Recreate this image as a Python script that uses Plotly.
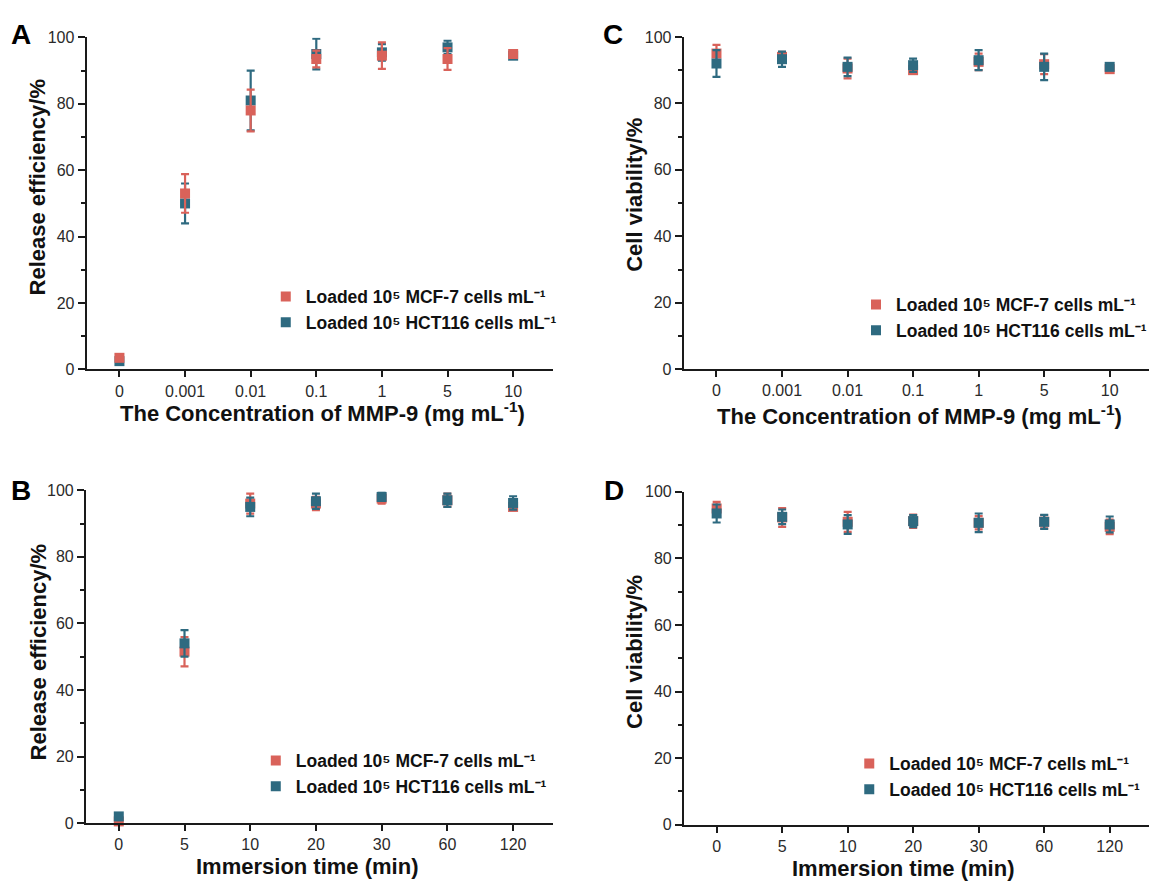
import plotly.graph_objects as go

# ---- data ---------------------------------------------------------------
concentrations = ["0", "0.001", "0.01", "0.1", "1", "5", "10"]
times = ["0", "5", "10", "20", "30", "60", "120"]

# release efficiency (%) vs MMP-9 concentration
release_conc_mcf7 = [3.5, 53.0, 78.0, 93.5, 94.5, 93.5, 95.0]
release_conc_mcf7_err = [0.8, 5.8, 6.3, 2.5, 4.0, 3.3, 0.8]
release_conc_hct116 = [2.5, 50.0, 81.0, 95.0, 95.5, 97.0, 94.5]
release_conc_hct116_err = [0.5, 6.0, 9.0, 4.6, 2.5, 2.0, 0.5]

# cell viability (%) vs MMP-9 concentration
viability_conc_mcf7 = [95.0, 94.0, 90.5, 90.0, 92.5, 91.8, 90.3]
viability_conc_mcf7_err = [2.6, 1.5, 3.0, 1.0, 2.5, 3.0, 0.5]
viability_conc_hct116 = [92.0, 93.3, 91.0, 91.5, 93.0, 91.0, 91.0]
viability_conc_hct116_err = [4.0, 2.3, 2.8, 2.0, 3.0, 4.0, 0.8]

# release efficiency (%) vs immersion time
release_time_mcf7 = [0.5, 51.5, 96.0, 96.0, 97.5, 97.0, 95.0]
release_time_mcf7_err = [0.3, 4.4, 3.0, 2.0, 1.5, 2.0, 1.0]
release_time_hct116 = [2.0, 54.0, 95.0, 96.7, 98.0, 97.0, 96.2]
release_time_hct116_err = [0.5, 4.0, 2.8, 2.3, 1.2, 2.0, 2.0]

# cell viability (%) vs immersion time
viability_time_mcf7 = [95.0, 92.3, 91.0, 91.2, 90.7, 91.0, 89.5]
viability_time_mcf7_err = [2.0, 2.8, 3.0, 2.0, 2.0, 2.0, 2.2]
viability_time_hct116 = [93.5, 92.5, 90.2, 91.2, 90.7, 91.0, 90.2]
viability_time_hct116_err = [2.7, 2.2, 2.8, 1.8, 2.8, 2.1, 2.4]

y_ticks = [0, 20, 40, 60, 80, 100]

name_mcf7 = "Loaded 10\u2075 MCF-7 cells mL\u207b\u00b9"
name_hct116 = "Loaded 10\u2075 HCT116 cells mL\u207b\u00b9"

# ---- styling -------------------------------------------------------------
RED = "#d9625a"
BLUE = "#2e6a80"
FONT = "Arial, 'Liberation Sans', sans-serif"
AXIS_COLOR = "#1a1a1a"
TICK_FONT = dict(family=FONT, size=16, color="#2a2a2a")

W, H = 1152, 887


def px_x(x):
    return x / W


def px_y(y):
    return 1 - y / H


def series(xs, ys, errs, color, name, xa, ya, legend, rank):
    return go.Scatter(
        x=xs, y=ys, name=name, mode="markers",
        xaxis=xa, yaxis=ya, legend=legend, legendrank=rank,
        cliponaxis=False,
        marker=dict(symbol="square", size=10, color=color),
        error_y=dict(type="data", array=errs, visible=True,
                     color=color, thickness=2.2, width=4),
    )


fig = go.Figure()

# A: release vs concentration (MCF-7 drawn on top)
fig.add_trace(series(concentrations, release_conc_hct116, release_conc_hct116_err,
                     BLUE, name_hct116, "x", "y", "legend", 2))
fig.add_trace(series(concentrations, release_conc_mcf7, release_conc_mcf7_err,
                     RED, name_mcf7, "x", "y", "legend", 1))
# C: viability vs concentration
fig.add_trace(series(concentrations, viability_conc_mcf7, viability_conc_mcf7_err,
                     RED, name_mcf7, "x2", "y2", "legend2", 1))
fig.add_trace(series(concentrations, viability_conc_hct116, viability_conc_hct116_err,
                     BLUE, name_hct116, "x2", "y2", "legend2", 2))
# B: release vs time
fig.add_trace(series(times, release_time_mcf7, release_time_mcf7_err,
                     RED, name_mcf7, "x3", "y3", "legend3", 1))
fig.add_trace(series(times, release_time_hct116, release_time_hct116_err,
                     BLUE, name_hct116, "x3", "y3", "legend3", 2))
# D: viability vs time
fig.add_trace(series(times, viability_time_mcf7, viability_time_mcf7_err,
                     RED, name_mcf7, "x4", "y4", "legend4", 1))
fig.add_trace(series(times, viability_time_hct116, viability_time_hct116_err,
                     BLUE, name_hct116, "x4", "y4", "legend4", 2))


def xaxis_style(domain, anchor):
    return dict(
        domain=domain, anchor=anchor, type="category",
        range=[-0.5, 6.6], showgrid=False, zeroline=False,
        showline=True, linecolor=AXIS_COLOR, linewidth=2,
        ticks="outside", ticklen=6, tickwidth=2, tickcolor=AXIS_COLOR,
        tickfont=TICK_FONT, fixedrange=True,
    )


def yaxis_style(domain, anchor):
    return dict(
        domain=domain, anchor=anchor, range=[0, 100],
        tickvals=y_ticks, showgrid=False, zeroline=False,
        showline=True, linecolor=AXIS_COLOR, linewidth=2,
        ticks="outside", ticklen=7, tickwidth=2, tickcolor=AXIS_COLOR,
        minor=dict(dtick=10, tick0=0, ticks="outside", ticklen=4,
                   tickwidth=2, tickcolor=AXIS_COLOR),
        tickfont=TICK_FONT, fixedrange=True,
    )


# panel boxes in pixels: (left, right, top, bottom)
boxes = {
    "A": (86.7, 553, 30, 368.5),
    "C": (684.3, 1150, 29.5, 368.3),
    "B": (86, 553, 491.7, 831),
    "D": (684.5, 1150, 493.3, 832.7),
}


def dom(box):
    l, r, t, b = box
    return [px_x(l), px_x(r)], [px_y(b), px_y(t)]


xa, ya = dom(boxes["A"])
xc, yc = dom(boxes["C"])
xb, yb = dom(boxes["B"])
xd, yd = dom(boxes["D"])


def legend_style(left, top):
    return dict(
        x=px_x(left), y=px_y(top), xanchor="left", yanchor="top",
        bgcolor="rgba(0,0,0,0)", borderwidth=0,
        font=dict(family=FONT, size=17.5, color="#111111", weight="bold"),
        itemwidth=30, tracegroupgap=0,
    )


fig.update_layout(
    width=W, height=H,
    margin=dict(l=0, r=0, t=0, b=0),
    paper_bgcolor="white", plot_bgcolor="white",
    font=dict(family=FONT),
    xaxis=xaxis_style(xa, "y"), yaxis=yaxis_style(ya, "x"),
    xaxis2=xaxis_style(xc, "y2"), yaxis2=yaxis_style(yc, "x2"),
    xaxis3=xaxis_style(xb, "y3"), yaxis3=yaxis_style(yb, "x3"),
    xaxis4=xaxis_style(xd, "y4"), yaxis4=yaxis_style(yd, "x4"),
    legend=legend_style(266, 276),
    legend2=legend_style(857, 284),
    legend3=legend_style(256, 749),
    legend4=legend_style(850, 752),
    showlegend=True,
)

annotations = []

# panel letters
for letter, (x, y) in {"A": (21, 27), "B": (21, 492), "C": (614, 27), "D": (615, 492)}.items():
    annotations.append(dict(
        text=f"<b>{letter}</b>", x=px_x(x), y=px_y(y), xref="paper", yref="paper",
        xanchor="center", yanchor="middle", showarrow=False,
        font=dict(family=FONT, size=28, color="#000000"),
    ))

TITLE_FONT = dict(family=FONT, size=22, color="#111111")

# y-axis titles
for text, (x, y) in [
    ("Release efficiency/%", (38, 183)),
    ("Cell viability/%", (635, 190)),
    ("Release efficiency/%", (38, 657)),
    ("Cell viability/%", (635, 656)),
]:
    annotations.append(dict(
        text=f"<b>{text}</b>", x=px_x(x), y=px_y(y), xref="paper", yref="paper",
        xanchor="center", yanchor="middle", textangle=-90, showarrow=False,
        font=TITLE_FONT,
    ))

# x-axis titles
for text, (x, y) in [
    ("The Concentration of MMP-9 (mg mL<sup>-1</sup>)", (323, 412)),
    ("The Concentration of MMP-9 (mg mL<sup>-1</sup>)", (920, 415)),
    ("Immersion time (min)", (307, 875)),
    ("Immersion time (min)", (904, 877)),
]:
    annotations.append(dict(
        text=f"<b>{text}</b>", x=px_x(x), y=px_y(y), xref="paper", yref="paper",
        xanchor="center", yanchor="middle", showarrow=False,
        font=TITLE_FONT,
    ))

fig.update_layout(annotations=annotations)

fig.write_html("out.html")
